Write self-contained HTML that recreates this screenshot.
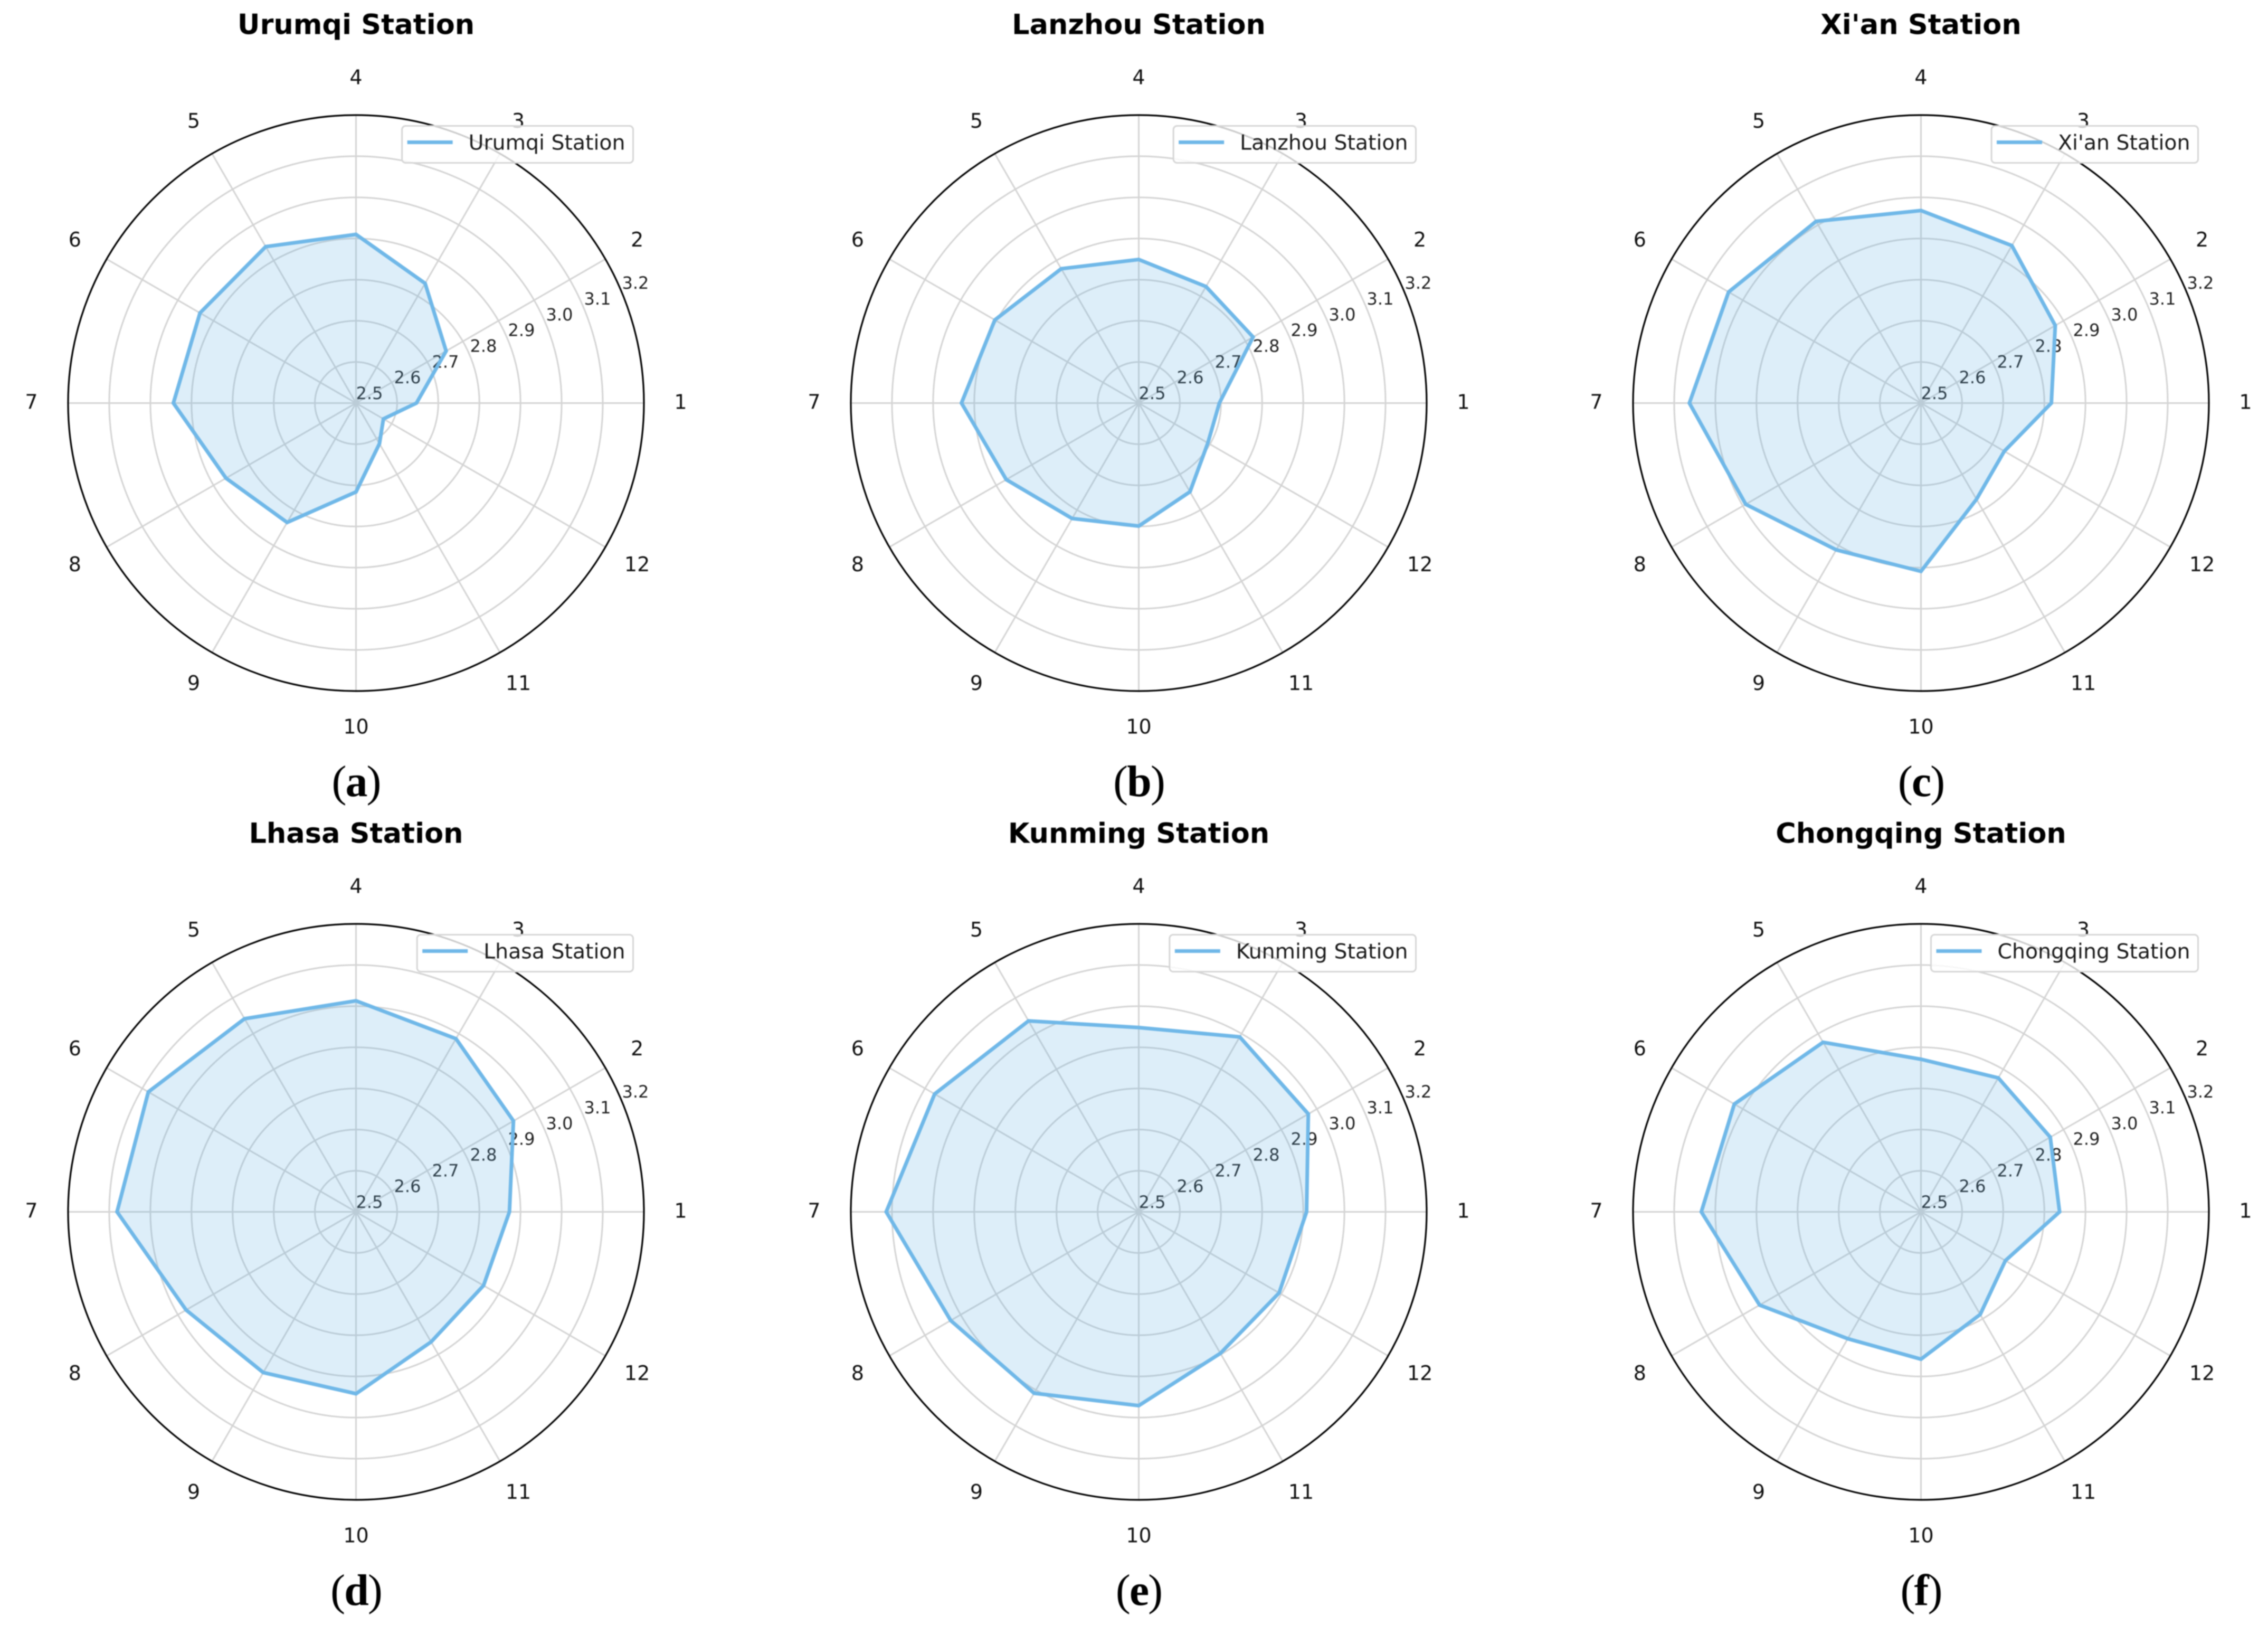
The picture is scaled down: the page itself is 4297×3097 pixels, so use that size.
<!DOCTYPE html>
<html lang="en">
<head>
<meta charset="utf-8">
<title>Monthly radar charts by station</title>
<style>
  html, body { margin: 0; padding: 0; background: #ffffff; }
  svg { display: block; filter: blur(1px); }
  text { font-family: "DejaVu Sans", "Liberation Sans", sans-serif; }
  .caption { font-family: "Liberation Serif", serif; letter-spacing: -2px; }
</style>
</head>
<body>
<svg id="chart" xmlns="http://www.w3.org/2000/svg" width="4297" height="3097" viewBox="0 0 4297 3097">
  <rect x="0" y="0" width="4297" height="3097" fill="#ffffff"/>
</svg>
<script>
const months = [1, 2, 3, 4, 5, 6, 7, 8, 9, 10, 11, 12];
const radialTicks = [2.5, 2.6, 2.7, 2.8, 2.9, 3.0, 3.1, 3.2];
const stations = ["Urumqi Station", "Lanzhou Station", "Xi'an Station", "Lhasa Station", "Kunming Station", "Chongqing Station"];
const panelLetters = ["a", "b", "c", "d", "e", "f"];

const urumqiValues = [2.647, 2.753, 2.836, 2.910, 2.939, 2.938, 2.944, 2.865, 2.835, 2.716, 2.614, 2.577];
const lanzhouValues = [2.696, 2.821, 2.827, 2.849, 2.877, 2.904, 2.931, 2.872, 2.824, 2.799, 2.749, 2.694];
const xianValues = [2.817, 2.877, 2.942, 2.968, 3.010, 3.040, 3.063, 2.992, 2.912, 2.909, 2.770, 2.734];
const lhasaValues = [2.873, 2.942, 2.986, 3.013, 3.042, 3.083, 3.081, 2.977, 2.951, 2.942, 2.865, 2.858];
const kunmingValues = [2.908, 2.976, 2.991, 2.948, 3.036, 3.073, 3.114, 3.028, 3.009, 2.971, 2.897, 2.894];
const chongqingValues = [2.837, 2.863, 2.876, 2.871, 2.976, 3.024, 3.034, 2.953, 2.856, 2.858, 2.788, 2.737];

const seriesByPanel = [urumqiValues, lanzhouValues, xianValues, lhasaValues, kunmingValues, chongqingValues];

const NS = "http://www.w3.org/2000/svg";
const svg = document.getElementById("chart");
const columnCentres = [674.5, 2157.5, 3639.5];
const rowCentres = [763.5, 2295.5];
const OUTER_RADIUS = 545.5;
const LABEL_RADIUS = 615;
const R_MIN = radialTicks[0];
const R_MAX = radialTicks[radialTicks.length - 1];

function rScale(value) {
  return (value - R_MIN) / (R_MAX - R_MIN) * OUTER_RADIUS;
}
function thetaScale(month) {
  return (month - months[0]) / months.length * 2 * Math.PI;
}
function polar(cx, cy, radius, theta) {
  return [cx + radius * Math.cos(theta), cy - radius * Math.sin(theta)];
}
function make(tag, attrs, parent) {
  const node = document.createElementNS(NS, tag);
  for (const key in attrs) node.setAttribute(key, attrs[key]);
  parent.appendChild(node);
  return node;
}

stations.forEach(function (station, panelIndex) {
  const cx = columnCentres[panelIndex % 3];
  const cy = rowCentres[Math.floor(panelIndex / 3)];
  const values = seriesByPanel[panelIndex];

  const panel = make("g", {}, svg);
  
  

  radialTicks.slice(1, -1).forEach(function (tick) {
    const ring = make("circle", { cx: cx, cy: cy, r: rScale(tick), fill: "none", stroke: "#d4d4d4", "stroke-width": 3 }, panel);
    
    
  });

  months.forEach(function (month) {
    const end = polar(cx, cy, OUTER_RADIUS, thetaScale(month));
    const spoke = make("line", { x1: cx, y1: cy, x2: end[0], y2: end[1], stroke: "#d4d4d4", "stroke-width": 3 }, panel);
    
    
  });

  radialTicks.forEach(function (tick) {
    const anchor = polar(cx, cy, rScale(tick), Math.PI / 8);
    const tickLabel = make("text", { x: anchor[0] + 25.5, y: anchor[1] - 19 + 11.5, "font-size": 32, fill: "#222222", "text-anchor": "middle" }, panel);
    tickLabel.textContent = tick.toFixed(1);
    
    
  });

  const points = months.map(function (month, i) {
    return polar(cx, cy, rScale(values[i]), thetaScale(month)).join(",");
  }).join(" ");
  const area = make("polygon", { points: points, fill: "#5dade2", "fill-opacity": 0.21, stroke: "none" }, panel);
  
  
  const outline = make("polygon", { points: points, fill: "none", stroke: "#70b8e8", "stroke-width": 7, "stroke-linejoin": "miter" }, panel);
  
  

  const border = make("circle", { cx: cx, cy: cy, r: OUTER_RADIUS, fill: "none", stroke: "#000000", "stroke-width": 3.2 }, panel);
  
  

  months.forEach(function (month) {
    const pos = polar(cx, cy, LABEL_RADIUS, thetaScale(month));
    const monthLabel = make("text", { x: pos[0], y: pos[1] + 11, "font-size": 38, fill: "#111111", "text-anchor": "middle" }, panel);
    monthLabel.textContent = String(month);
    
    
  });

  const title = make("text", { x: cx, y: cy - 699, "font-size": 52.5, "font-weight": "bold", fill: "#000000", "text-anchor": "middle" }, panel);
  title.textContent = station;
  
  

  const legend = make("g", {}, panel);
  
  
  const legendRight = cx + 525;
  const legendBox = make("rect", { y: cy - 525, height: 70, rx: 7, ry: 7, fill: "#ffffff", "fill-opacity": 0.8, stroke: "#d6d6d6", "stroke-width": 3 }, legend);
  
  
  const legendText = make("text", { y: cy - 480, "font-size": 39.4, fill: "#1a1a1a" }, legend);
  legendText.textContent = station;
  
  
  const textWidth = legendText.getComputedTextLength();
  const legendLeft = legendRight - 15 - textWidth - 126;
  legendBox.setAttribute("x", legendLeft);
  legendBox.setAttribute("width", legendRight - legendLeft);
  legendText.setAttribute("x", legendLeft + 126);
  const legendLine = make("line", { x1: legendLeft + 10, x2: legendLeft + 96, y1: cy - 494, y2: cy - 494, stroke: "#70b8e8", "stroke-width": 7 }, legend);
  
  

  const caption = make("text", { x: cx, y: cy + 744.5, "font-size": 84, fill: "#000000", "text-anchor": "middle", "class": "caption" }, panel);
  
  
  const openParen = make("tspan", { "font-weight": "normal" }, caption);
  openParen.textContent = "(";
  const letter = make("tspan", { "font-weight": "bold" }, caption);
  letter.textContent = panelLetters[panelIndex];
  const closeParen = make("tspan", { "font-weight": "normal" }, caption);
  closeParen.textContent = ")";
});
</script>
</body>
</html>
